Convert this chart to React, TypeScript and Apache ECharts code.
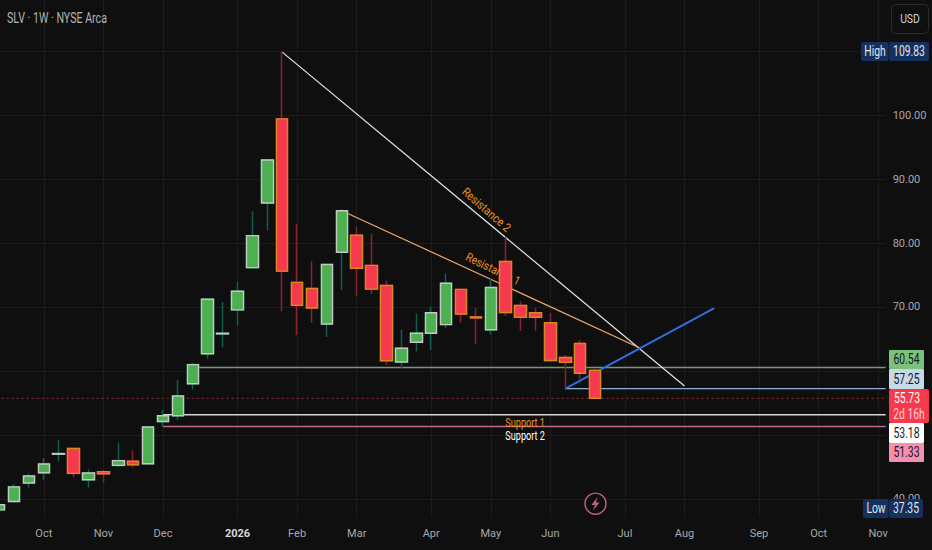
import React, { useEffect, useRef } from "react";
import * as echarts from "echarts";

const FONT = "Roboto, sans-serif";

const weeks = [
  "2025-09-15","2025-09-22","2025-09-29","2025-10-06","2025-10-13","2025-10-20","2025-10-27","2025-11-03","2025-11-10","2025-11-17",
  "2025-11-24","2025-12-01","2025-12-08","2025-12-15","2025-12-22","2025-12-29","2026-01-05","2026-01-12","2026-01-19","2026-01-26",
  "2026-02-02","2026-02-09","2026-02-16","2026-02-23","2026-03-02","2026-03-09","2026-03-16","2026-03-23","2026-03-30","2026-04-06",
  "2026-04-13","2026-04-20","2026-04-27","2026-05-04","2026-05-11","2026-05-18","2026-05-25","2026-06-01","2026-06-08","2026-06-15",
  "2026-06-22","2026-06-29","2026-07-06","2026-07-13","2026-07-20","2026-07-27","2026-08-03","2026-08-10","2026-08-17","2026-08-24",
  "2026-08-31","2026-09-07","2026-09-14","2026-09-21","2026-09-28","2026-10-05","2026-10-12","2026-10-19","2026-10-26","2026-11-02",
];
const monthTicks: Record<string, string> = {
  "2025-10-06": "Oct", "2025-11-03": "Nov", "2025-12-01": "Dec", "2026-01-05": "2026", "2026-02-02": "Feb", "2026-03-02": "Mar",
  "2026-04-06": "Apr", "2026-05-04": "May", "2026-06-01": "Jun", "2026-07-06": "Jul", "2026-08-03": "Aug", "2026-09-07": "Sep",
  "2026-10-05": "Oct", "2026-11-02": "Nov",
};

const opens = [38.3,39.6,42.5,44.1,47.0,47.9,43.0,44.27,45.25,45.9,45.5,52.1,53.0,58.0,62.7,65.8,69.55,76.15,86.25,99.4,73.85,72.9,67.35,78.55,81.2,76.5,73.35,61.4,64.5,65.9,67.25,72.75,68.45,66.45,77.1,70.25,69.1,67.55,62.1,64.3,60.1];
const closes = [39.1,41.9,43.6,45.47,47.1,44.0,44.06,43.95,46.0,45.35,51.25,53.0,56.1,61.0,71.2,65.9,72.45,81.15,92.97,75.6,70.25,69.85,76.65,85.05,76.05,72.8,61.6,63.55,65.9,69.1,73.7,68.9,68.3,73.05,69.15,68.4,68.4,61.65,61.35,59.65,55.73];
const lows = [37.9,39.4,41.8,43.0,45.9,43.4,41.8,42.6,45.0,44.9,45.4,51.3,52.4,57.1,61.9,63.7,67.1,76.1,82.0,69.3,65.6,67.5,65.3,72.65,71.75,72.05,60.95,60.45,63.1,63.3,66.7,67.55,64.2,65.7,68.6,66.25,66.3,61.45,57.4,58.75,55.6];
const highs = [39.3,42.3,44.0,46.4,49.3,48.0,44.6,44.5,48.8,47.6,51.3,53.9,58.6,61.3,71.35,70.8,74.0,84.95,93.1,109.83,83.0,77.1,76.7,85.3,82.5,81.4,74.1,66.5,69.0,70.05,75.25,72.9,69.8,74.4,80.95,70.9,69.8,69.1,62.5,64.85,60.4];

const whiteTrend = [[19, 109.83], [46, 57.66]];
const orangeTrend = [[23, 85.05], [43, 63.6]];
const blueTrend = [[38, 57.25], [48, 69.84]];

// start week index, price, colour, width, dash
const levels: [number, number, string, number, string][] = [
  [13, 60.54, "#6f9e6c", 1.5, "solid"],
  [38, 57.25, "#8fb0d8", 1.2, "solid"],
  [11, 53.18, "#d6d6d6", 1.5, "solid"],
  [11, 51.33, "#c2688a", 1.5, "solid"],
  [0, 55.73, "#9e2a38", 1, "dotted"],
];
// week index, price, text, colour, clockwise turn in degrees, pixel shift in x, width squeeze
const notes: [number, number, string, string, number, number, number][] = [
  [33, 85.15, "Resistance 2", "#e8942a", 41, -4.5, 0.88],
  [33, 75.9, "Resistance 1", "#e8942a", 26, 2, 0.86],
  [35, 51.9, "Support 1", "#e8942a", 0, 4.5, 0.76],
  [35, 49.85, "Support 2", "#ffffff", 0, 4.5, 0.76],
];
// text, left, top, right, bottom, fill, ink
const priceTags: [string, number, number, number, number, string, string][] = [
  ["60.54", 889, 350, 924, 369, "#7cc17b", "#131722"],
  ["57.25", 889, 369, 924, 389, "#c5d9e8", "#131722"],
  ["53.18", 889, 423, 924, 443, "#ffffff", "#131722"],
  ["51.33", 889, 443, 924, 462, "#f48fb1", "#131722"],
];

const bodies = opens.map((o, i) => [o, closes[i], Math.min(o, closes[i]), Math.max(o, closes[i])]);
const candles = opens.map((o, i) => [o, closes[i], lows[i], highs[i]]);

export default function App() {
  const ref = useRef<HTMLDivElement>(null);
  useEffect(() => {
    const chart = echarts.init(ref.current!, null, { renderer: "svg" });
    const tagText = (text: string, x: number, y: number, fill: string, size = 14, squeeze = 0.74, align = "center") => ({
      type: "text", x, y, z: 52, scaleX: squeeze,
      style: { text, fill, font: `${size}px ${FONT}`, align, verticalAlign: "middle" },
    });
    const rect = (x0: number, y0: number, x1: number, y1: number, fill: string, r = 2) => ({
      type: "rect", z: 50, shape: { x: x0, y: y0, width: x1 - x0, height: y1 - y0, r }, style: { fill },
    });
    const trend = (name: string, data: number[][], color: string, width: number) => ({
      name, type: "line", z: 1, data, symbol: "none", silent: true, clip: false,
      lineStyle: { color, width }, animation: false,
    });
    chart.setOption({
      animation: false,
      backgroundColor: "#0f0f0f",
      grid: { left: -8.35, top: 0, width: 894, height: 518, containLabel: false, outerBoundsMode: "none" },
      xAxis: {
        type: "category",
        data: weeks,
        boundaryGap: true,
        axisLine: { show: false },
        axisTick: { show: false },
        splitLine: {
          show: true,
          alignWithLabel: true,
          interval: (i: number) => !!monthTicks[weeks[i]],
          lineStyle: { color: "#1c1c1c", width: 1 },
        },
        axisLabel: {
          interval: 0,
          margin: 10,
          color: "#a8a8a8",
          fontSize: 11,
          fontFamily: FONT,
          formatter: (v: string) => {
            const t = monthTicks[v] || "";
            return t === "2026" ? `{b|${t}}` : t;
          },
          rich: { b: { color: "#d8d8d8", fontSize: 11, fontWeight: "bold", fontFamily: FONT } },
        },
      },
      yAxis: {
        type: "value",
        position: "right",
        min: 37.03,
        max: 117.97,
        axisLine: { show: false },
        axisTick: { show: false, customValues: [40, 50, 60, 70, 80, 90, 100, 110] },
        splitLine: { show: true, lineStyle: { color: "#1c1c1c", width: 1 } },
        axisLabel: {
          customValues: [40, 70, 80, 90, 100],
          margin: 7,
          color: "#a8a8a8",
          fontSize: 11,
          fontFamily: FONT,
          formatter: (v: number) => v.toFixed(2),
        },
      },
      series: [
        {
          name: "levels", type: "custom", z: 1, silent: true, clip: false,
          data: levels.map((l) => [l[0], l[1]]),
          encode: { x: 0, y: 1 },
          renderItem: (p: any, api: any) => {
            const l = levels[p.dataIndex];
            const a = api.coord([api.value(0), api.value(1)]);
            const x0 = l[4] === "dotted" ? p.coordSys.x : a[0];
            return {
              type: "line",
              shape: { x1: x0, y1: a[1], x2: p.coordSys.x + p.coordSys.width, y2: a[1] },
              style: { stroke: l[2], lineWidth: l[3], lineDash: l[4] === "dotted" ? [2, 3] : undefined, fill: "none" },
            };
          },
        },
        trend("Trend white", whiteTrend, "#e6e6e6", 1.2),
        trend("Trend orange", orangeTrend, "#f0a868", 1.2),
        trend("Trend blue", blueTrend, "#2f6fe0", 2),
        {
          name: "notes", type: "custom", z: 1, silent: true, clip: false,
          data: notes.map((n) => [n[0], n[1]]),
          encode: { x: 0, y: 1 },
          renderItem: (p: any, api: any) => {
            const n = notes[p.dataIndex];
            const a = api.coord([api.value(0), api.value(1)]);
            return {
              type: "text", x: a[0] + n[5], y: a[1], scaleX: n[6], rotation: (-n[4] * Math.PI) / 180,
              style: { text: n[2], fill: n[3], font: `12px ${FONT}`, align: "center", verticalAlign: "middle" },
            };
          },
        },
        {
          name: "SLV wicks", type: "candlestick", z: 3, barWidth: 12, data: candles, silent: true,
          itemStyle: { color: "transparent", color0: "transparent", borderColor: "#0f5f50", borderColor0: "#8a2030", borderWidth: 1.5 },
        },
        {
          name: "SLV bodies", type: "candlestick", z: 4, barWidth: 12, data: bodies, silent: true,
          itemStyle: { color: "#4caf50", color0: "#f7394d", borderColor: "#c4c9c4", borderColor0: "#d88a1e", borderColorDoji: "#c4c9c4", borderWidth: 1.4 },
        },
      ],
      graphic: [
        tagText("SLV · 1W · NYSE Arca", 7, 18, "#b4b4b4", 14, 0.76, "left"),
        { type: "rect", z: 50, shape: { x: 891.5, y: 4.5, width: 37, height: 29, r: 4 }, style: { fill: "#0f0f0f", stroke: "#2b2b2b", lineWidth: 1 } },
        tagText("USD", 910, 19, "#d0d0d0", 13, 0.8),
        rect(861, 42, 888.5, 61, "#14305f"),
        tagText("High", 875, 51.5, "#e6e6e6"),
        rect(889, 42, 929, 61, "#14305f"),
        tagText("109.83", 909, 51.5, "#e6e6e6"),
        rect(863, 499, 888.5, 518, "#14305f"),
        tagText("Low", 876, 508.5, "#e6e6e6"),
        rect(889, 499, 923, 518, "#14305f"),
        tagText("37.35", 906, 508.5, "#e6e6e6"),
        ...priceTags.flatMap((t) => [
          rect(t[1], t[2], t[3], t[4], t[5], 1),
          tagText(t[0], (t[1] + t[3]) / 2, (t[2] + t[4]) / 2, t[6]),
        ]),
        rect(889, 389, 929, 423, "#f7394d"),
        tagText("55.73", 907, 398, "#ffffff"),
        tagText("2d 16h", 909, 414, "#ffd0d6"),
        { type: "circle", z: 50, shape: { cx: 595.5, cy: 503.7, r: 10.5 }, style: { fill: "#0f0f0f", stroke: "#c2617a", lineWidth: 1.4 } },
        { type: "polygon", z: 51, shape: { points: [[597.5, 497], [591.5, 505], [595, 505], [593, 510.5], [599.5, 502.5], [596, 502.5]] }, style: { fill: "#c2617a" } },
      ],
    });
    return () => chart.dispose();
  }, []);
  return <div ref={ref} style={{ position: "absolute", left: 0, top: 0, width: 932, height: 550 }} />;
}
